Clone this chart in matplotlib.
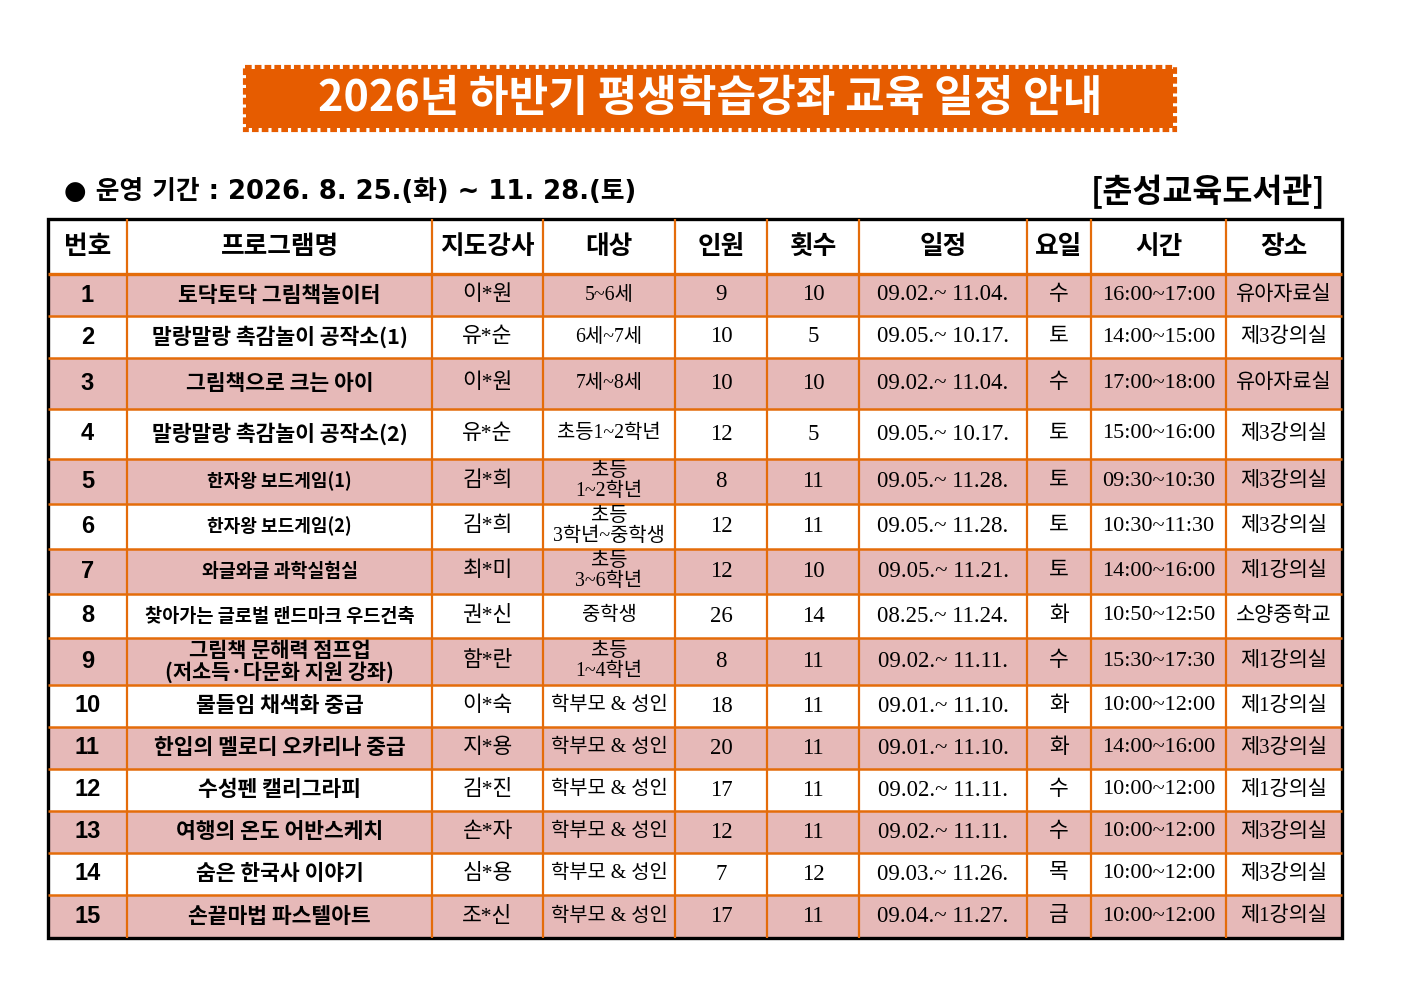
import matplotlib
matplotlib.use("agg")
import matplotlib.pyplot as plt
from matplotlib.patches import Rectangle

# ---- data ----
headers = ["번호", "프로그램명", "지도강사", "대상", "인원", "횟수", "일정", "요일", "시간", "장소"]
programs = [
    "토닥토닥 그림책놀이터",
    "말랑말랑 촉감놀이 공작소(1)",
    "그림책으로 크는 아이",
    "말랑말랑 촉감놀이 공작소(2)",
    "한자왕 보드게임(1)",
    "한자왕 보드게임(2)",
    "와글와글 과학실험실",
    "찾아가는 글로벌 랜드마크 우드건축",
    "그림책 문해력 점프업\n(저소득·다문화 지원 강좌)",
    "물들임 채색화 중급",
    "한입의 멜로디 오카리나 중급",
    "수성펜 캘리그라피",
    "여행의 온도 어반스케치",
    "숨은 한국사 이야기",
    "손끝마법 파스텔아트",
]
teachers = ["이*원", "유*순", "이*원", "유*순", "김*희", "김*희", "최*미", "권*신",
            "함*란", "이*숙", "지*용", "김*진", "손*자", "심*용", "조*신"]
targets = ["5~6세", "6세~7세", "7세~8세", "초등1~2학년", "초등\n1~2학년",
           "초등\n3학년~중학생", "초등\n3~6학년", "중학생", "초등\n1~4학년",
           "학부모 & 성인", "학부모 & 성인", "학부모 & 성인", "학부모 & 성인",
           "학부모 & 성인", "학부모 & 성인"]
capacity = [9, 10, 10, 12, 8, 12, 12, 26, 8, 18, 20, 17, 12, 7, 17]
sessions = [10, 5, 10, 5, 11, 11, 10, 14, 11, 11, 11, 11, 11, 12, 11]
periods = ["09.02.~ 11.04.", "09.05.~ 10.17.", "09.02.~ 11.04.", "09.05.~ 10.17.",
           "09.05.~ 11.28.", "09.05.~ 11.28.", "09.05.~ 11.21.", "08.25.~ 11.24.",
           "09.02.~ 11.11.", "09.01.~ 11.10.", "09.01.~ 11.10.", "09.02.~ 11.11.",
           "09.02.~ 11.11.", "09.03.~ 11.26.", "09.04.~ 11.27."]
days = ["수", "토", "수", "토", "토", "토", "토", "화", "수", "화", "화", "수", "수", "목", "금"]
times = ["16:00~17:00", "14:00~15:00", "17:00~18:00", "15:00~16:00", "09:30~10:30",
         "10:30~11:30", "14:00~16:00", "10:50~12:50", "15:30~17:30", "10:00~12:00",
         "14:00~16:00", "10:00~12:00", "10:00~12:00", "10:00~12:00", "10:00~12:00"]
places = ["유아자료실", "제3강의실", "유아자료실", "제3강의실", "제3강의실", "제3강의실",
          "제1강의실", "소양중학교", "제1강의실", "제1강의실", "제3강의실", "제1강의실",
          "제3강의실", "제3강의실", "제1강의실"]

title = "2026년 하반기 평생학습강좌 교육 일정 안내"
period_text = "● 운영 기간 : 2026. 8. 25.(화) ~ 11. 28.(토)"
library = "[춘성교육도서관]"

# ---- layout (pixels) ----
col_edges = [48, 127, 432, 543, 675, 767, 859, 1027, 1091, 1226, 1342]
row_edges = [219, 274, 316, 358, 409, 459, 504, 549, 594, 638, 685, 727, 769, 811, 853, 895, 938]
# program names are set in a couple of different sizes in the original
prog_sizes = [15.5, 15.5, 15.5, 15.5, 13, 13, 13.2, 13.4, 15, 15.5, 15.5, 15.5, 15.5, 15.5, 15.5]
# per-column body font size (columns 2..9)
body_sizes = {2: 15.5, 3: 14.3, 4: 16.5, 5: 16.5, 6: 16.5, 7: 15.5, 8: 16, 9: 15}

ORANGE = "#E65C00"
GRID = "#E46C0A"
PINK = "#E6B9B8"
KR = "Noto Sans CJK KR"
SERIF = ["Liberation Serif", KR]
SANS = ["Liberation Sans", KR]

fig = plt.figure(figsize=(14.03, 9.92), dpi=100)
ax = fig.add_axes([0, 0, 1, 1])
ax.set_xlim(0, 1403)
ax.set_ylim(992, 0)
ax.axis("off")

# title banner
ax.add_patch(Rectangle((246, 68.5), 927, 59.5, facecolor=ORANGE, edgecolor="none"))
ax.add_patch(Rectangle((244.5, 67), 930, 62.5, fill=False, edgecolor=ORANGE,
                       linewidth=3.0, linestyle=(0, (1.6, 0.75))))
ax.text(710, 98, title, ha="center", va="center", color="white",
        fontsize=31, fontweight="bold", family=KR)

ax.text(64, 192, period_text, ha="left", va="center", fontsize=18.6,
        fontweight="bold", family=["DejaVu Sans", KR])
ax.text(1326, 192, library, ha="right", va="center", fontsize=23.5,
        fontweight="bold", family=KR)

# cell fills
for i in range(len(programs)):
    y0, y1 = row_edges[i + 1], row_edges[i + 2]
    if i % 2 == 0:
        ax.add_patch(Rectangle((col_edges[0], y0), col_edges[-1] - col_edges[0], y1 - y0,
                               facecolor=PINK, edgecolor="none"))

# grid lines
for x in col_edges[1:-1]:
    ax.plot([x, x], [row_edges[0], row_edges[-1]], color=GRID, lw=1.6, solid_capstyle="butt")
for k, y in enumerate(row_edges[1:-1]):
    ax.plot([col_edges[0], col_edges[-1]], [y, y], color=GRID,
            lw=2.4 if k == 0 else 1.8, solid_capstyle="butt")
ax.add_patch(Rectangle((col_edges[0], row_edges[0]), col_edges[-1] - col_edges[0],
                       row_edges[-1] - row_edges[0], fill=False, edgecolor="black", lw=2.4))

# header
hy = (row_edges[0] + row_edges[1]) / 2
for j, h in enumerate(headers):
    cx = (col_edges[j] + col_edges[j + 1]) / 2
    ax.text(cx, hy, h, ha="center", va="center", fontsize=18.5, fontweight="bold", family=KR)

# body
for i in range(len(programs)):
    cy = (row_edges[i + 1] + row_edges[i + 2]) / 2
    cells = [str(i + 1), programs[i], teachers[i], targets[i], str(capacity[i]),
             str(sessions[i]), periods[i], days[i], times[i], places[i]]
    for j, val in enumerate(cells):
        cx = (col_edges[j] + col_edges[j + 1]) / 2
        if j == 0:
            ax.text(cx, cy, val, ha="center", va="center", fontsize=17,
                    fontweight="bold", family=SANS)
        elif j == 1:
            ax.text(cx, cy, val, ha="center", va="center", fontsize=prog_sizes[i],
                    fontweight="bold", family=KR, linespacing=1.05)
        else:
            ax.text(cx, cy, val, ha="center", va="center", fontsize=body_sizes[j],
                    family=SERIF, linespacing=1.1)

fig.savefig("out.png", dpi=100, facecolor="white")
